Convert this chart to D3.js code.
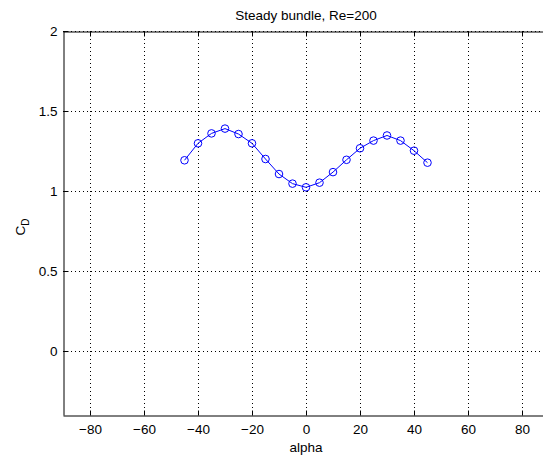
<!DOCTYPE html>
<html>
<head>
<meta charset="utf-8">
<script src="https://cdn.jsdelivr.net/npm/d3@7"></script>
<style>
  html, body { margin: 0; padding: 0; background: #fff; }
  svg { display: block; }
  text { font-family: "Liberation Sans", Arial, sans-serif; fill: #000; }
</style>
</head>
<body>
<svg id="chart" width="543" height="456"></svg>
<script>
// Drag coefficient against flow angle
const alpha = [-45, -40, -35, -30, -25, -20, -15, -10, -5, 0, 5, 10, 15, 20, 25, 30, 35, 40, 45];
const cd = [1.192, 1.298, 1.36, 1.39, 1.356, 1.298, 1.2, 1.106, 1.046, 1.023, 1.052, 1.118, 1.195, 1.267, 1.315, 1.347, 1.315, 1.252, 1.177];
const xTicks = [-80, -60, -40, -20, 0, 20, 40, 60, 80];
const yTicks = [0, 0.5, 1, 1.5, 2];

const svg = d3.select("#chart");
const plotL = 63, plotR = 549, plotT = 31, plotB = 415;
const fs = 13.5;

const x = d3.scaleLinear().domain([-90, 90]).range([plotL, plotR]);
const y = d3.scaleLinear().domain([-0.4, 2]).range([plotB, plotT]);

// dotted grid
const grid = svg.append("g").attr("stroke", "#000").attr("stroke-width", 1)
  .attr("stroke-dasharray", "1,3").attr("shape-rendering", "crispEdges");
xTicks.forEach(t => grid.append("line")
  .attr("x1", Math.round(x(t)) + 0.5).attr("x2", Math.round(x(t)) + 0.5)
  .attr("y1", plotT).attr("y2", plotB));
yTicks.forEach(t => grid.append("line")
  .attr("x1", plotL).attr("x2", plotR)
  .attr("y1", Math.round(y(t)) + 0.5).attr("y2", Math.round(y(t)) + 0.5));

// axes with inward ticks
const xAxis = svg.append("g").attr("transform", `translate(0,${plotB + 0.5})`)
  .call(d3.axisBottom(x).tickValues(xTicks).tickSizeInner(-5).tickSizeOuter(0).tickPadding(9));
const xTop = svg.append("g").attr("transform", `translate(0,${plotT + 0.5})`)
  .call(d3.axisTop(x).tickValues(xTicks).tickSizeInner(-5).tickSizeOuter(0).tickFormat(""));
const yAxis = svg.append("g").attr("transform", `translate(${plotL + 0.5},0)`)
  .call(d3.axisLeft(y).tickValues(yTicks).tickSizeInner(-5).tickSizeOuter(0).tickPadding(6)
    .tickFormat(d3.format("")));
[xAxis, xTop, yAxis].forEach(g => {
  g.selectAll("path").attr("stroke", "#000");
  g.selectAll("line").attr("stroke", "#000");
  g.selectAll("text").attr("font-size", fs).attr("font-family", "Liberation Sans, Arial, sans-serif").attr("fill", "#111");
});

// series line and open circle markers
const pts = alpha.map((a, i) => [a, cd[i]]);
svg.append("path")
  .datum(pts)
  .attr("fill", "none").attr("stroke", "#0000ff").attr("stroke-width", 1)
  .attr("d", d3.line().x(d => x(d[0])).y(d => y(d[1])));
svg.append("g").selectAll("circle").data(pts)
  .join("circle")
  .attr("cx", d => x(d[0])).attr("cy", d => y(d[1])).attr("r", 3.8)
  .attr("fill", "none").attr("stroke", "#0000ff").attr("stroke-width", 1);

// labels
svg.append("text").attr("x", (plotL + plotR) / 2).attr("y", 20)
  .attr("text-anchor", "middle").attr("font-size", fs).attr("fill", "#111").text("Steady bundle, Re=200");
svg.append("text").attr("x", (plotL + plotR) / 2).attr("y", 452)
  .attr("text-anchor", "middle").attr("font-size", fs).attr("fill", "#111").text("alpha");
const yl = svg.append("text").attr("transform", `translate(25,${(plotT + plotB) / 2 + 4}) rotate(-90)`)
  .attr("text-anchor", "middle").attr("font-size", fs).attr("fill", "#111");
yl.append("tspan").text("C");
yl.append("tspan").attr("font-size", 10).attr("dy", 4).text("D");
</script>
</body>
</html>
